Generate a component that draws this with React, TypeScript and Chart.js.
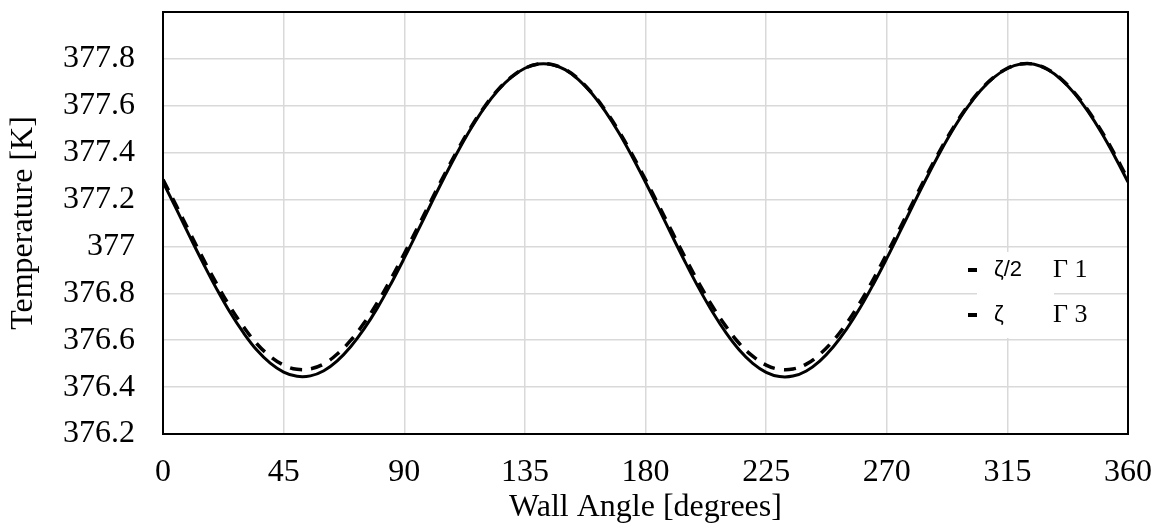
import React, { useEffect, useRef } from "react";
import { Chart, registerables } from "chart.js";

Chart.register(...registerables);

const angles: number[] = [
  0, 5, 10, 15, 20, 25, 30, 35, 40, 45, 50, 55, 60, 65, 70, 75, 80, 85, 90, 95, 100, 105, 110, 115, 120, 125, 130, 135, 140, 145, 150, 155, 160, 165, 170, 175,
  180, 185, 190, 195, 200, 205, 210, 215, 220, 225, 230, 235, 240, 245, 250, 255, 260, 265, 270, 275, 280, 285, 290, 295, 300, 305, 310, 315, 320, 325, 330, 335, 340, 345, 350, 355, 360,
];

const seriesDashed: number[] = [
  377.285, 377.173, 377.059, 376.947, 376.841, 376.743, 376.658, 376.585, 376.531, 376.494, 376.476, 376.478, 376.499, 376.541, 376.599, 376.673, 376.761, 376.861,
  376.969, 377.081, 377.195, 377.307, 377.413, 377.511, 377.597, 377.669, 377.723, 377.760, 377.778, 377.776, 377.755, 377.714, 377.655, 377.581, 377.493, 377.393,
  377.285, 377.174, 377.060, 376.948, 376.842, 376.744, 376.659, 376.586, 376.532, 376.494, 376.476, 376.477, 376.498, 376.540, 376.598, 376.672, 376.760, 376.860,
  376.968, 377.080, 377.194, 377.306, 377.412, 377.510, 377.596, 377.668, 377.722, 377.760, 377.778, 377.777, 377.756, 377.715, 377.656, 377.582, 377.494, 377.394, 377.286,
];

const seriesSolid: number[] = [
  377.274, 377.159, 377.042, 376.928, 376.819, 376.719, 376.632, 376.558, 376.502, 376.464, 376.446, 376.448, 376.470, 376.512, 376.572, 376.648, 376.738, 376.840,
  376.950, 377.065, 377.182, 377.296, 377.405, 377.505, 377.593, 377.666, 377.722, 377.760, 377.778, 377.776, 377.754, 377.712, 377.652, 377.576, 377.486, 377.384,
  377.274, 377.160, 377.043, 376.929, 376.820, 376.720, 376.632, 376.558, 376.501, 376.463, 376.445, 376.447, 376.469, 376.511, 376.571, 376.647, 376.737, 376.839,
  376.949, 377.064, 377.181, 377.295, 377.404, 377.504, 377.592, 377.665, 377.721, 377.759, 377.778, 377.777, 377.755, 377.713, 377.653, 377.577, 377.487, 377.385, 377.275,
];

const legendGreek: string[] = ["ζ/2", "ζ"];
const legendGamma: string[] = ["Γ 1", "Γ 3"];
const seriesLabels: string[] = ["ζ/2 Γ 1", "ζ Γ 3"];

const xTitle = "Wall Angle [degrees]";
const yTitle = "Temperature [K]";

const SERIF = "'Liberation Serif', 'Times New Roman', serif";

const legendPlugin = {
  id: "customLegend",
  beforeDatasetsDraw(chart: any) {
    const ctx = chart.ctx;
    ctx.save();
    ctx.fillStyle = "#ffffff";
    ctx.fillRect(977, 252, 77, 86);
    ctx.restore();
  },
  afterDatasetsDraw(chart: any) {
    const ctx = chart.ctx;
    ctx.save();
    const rows = [270, 315];
    chart.data.datasets.forEach((ds: any, i: number) => {
      const y = rows[i];
      ctx.strokeStyle = "#000";
      ctx.lineWidth = 4;
      ctx.setLineDash([]);
      ctx.beginPath();
      ctx.moveTo(968, y);
      ctx.lineTo(977, y);
      ctx.stroke();
      ctx.fillStyle = "#000";
      ctx.textBaseline = "middle";
      ctx.textAlign = "left";
      ctx.font = "22px 'Liberation Sans', Arial, sans-serif";
      ctx.fillText(legendGreek[i], 994, y);
      ctx.font = "26px " + SERIF;
      ctx.fillText(legendGamma[i], 1053, y);
    });
    ctx.restore();
  },
};

export default function App() {
  const ref = useRef<HTMLCanvasElement | null>(null);
  useEffect(() => {
    if (!ref.current) return;
    const chart = new Chart(ref.current, {
      type: "line",
      data: {
        labels: angles,
        datasets: [
          {
            label: seriesLabels[0],
            data: angles.map((a, i) => ({ x: a, y: seriesDashed[i] })),
            borderColor: "#000",
            borderWidth: 3.5,
            borderDash: [12, 9],
            pointRadius: 0,
            tension: 0.4,
            fill: false,
          },
          {
            label: seriesLabels[1],
            data: angles.map((a, i) => ({ x: a, y: seriesSolid[i] })),
            borderColor: "#000",
            borderWidth: 3,
            pointRadius: 0,
            tension: 0.4,
            fill: false,
          },
        ],
      },
      options: {
        animation: false,
        responsive: true,
        maintainAspectRatio: false,
        layout: { padding: { top: 12, right: 33, left: 0, bottom: 0 } },
        plugins: {
          legend: { display: false },
          tooltip: { enabled: false },
        },
        scales: {
          x: {
            type: "linear",
            min: 0,
            max: 360,
            border: { display: true, color: "#000", width: 2 },
            grid: { color: "#d9d9d9", lineWidth: 1.5, drawTicks: false },
            ticks: {
              stepSize: 45,
              color: "#000",
              padding: 19,
              maxRotation: 0,
              font: { family: SERIF, size: 32 },
            },
            title: {
              display: true,
              text: xTitle,
              color: "#000",
              font: { family: SERIF, size: 32 },
              padding: { top: 0, bottom: 2 },
            },
            afterFit(scale: any) {
              scale.height = 95;
              scale.paddingLeft = 0;
              scale.paddingRight = 0;
            },
          },
          y: {
            type: "linear",
            min: 376.2,
            max: 378,
            border: { display: true, color: "#000", width: 2 },
            grid: { color: "#d9d9d9", lineWidth: 1.5, drawTicks: false },
            ticks: {
              stepSize: 0.2,
              color: "#000",
              padding: 28,
              font: { family: SERIF, size: 32 },
              callback: (v: any) => {
                const n = Number(Number(v).toFixed(1));
                if (n >= 378) return "";
                return String(n);
              },
            },
            title: {
              display: true,
              text: yTitle,
              color: "#000",
              font: { family: SERIF, size: 32 },
              padding: { top: 4, bottom: 0 },
            },
            afterFit(scale: any) {
              scale.width = 163;
              scale.paddingTop = 0;
              scale.paddingBottom = 0;
            },
          },
        },
      },
      plugins: [
        legendPlugin,
        {
          id: "frame",
          afterDraw(c: any) {
            const a = c.chartArea;
            const ctx = c.ctx;
            ctx.save();
            ctx.strokeStyle = "#000";
            ctx.lineWidth = 2;
            ctx.strokeRect(a.left, a.top, a.right - a.left, a.bottom - a.top);
            ctx.restore();
          },
        },
      ],
    } as any);
    return () => chart.destroy();
  }, []);
  return (
    <div style={{ position: "fixed", left: 0, top: 0, width: 1161, height: 529, background: "#fff" }}>
      <canvas ref={ref} />
    </div>
  );
}
